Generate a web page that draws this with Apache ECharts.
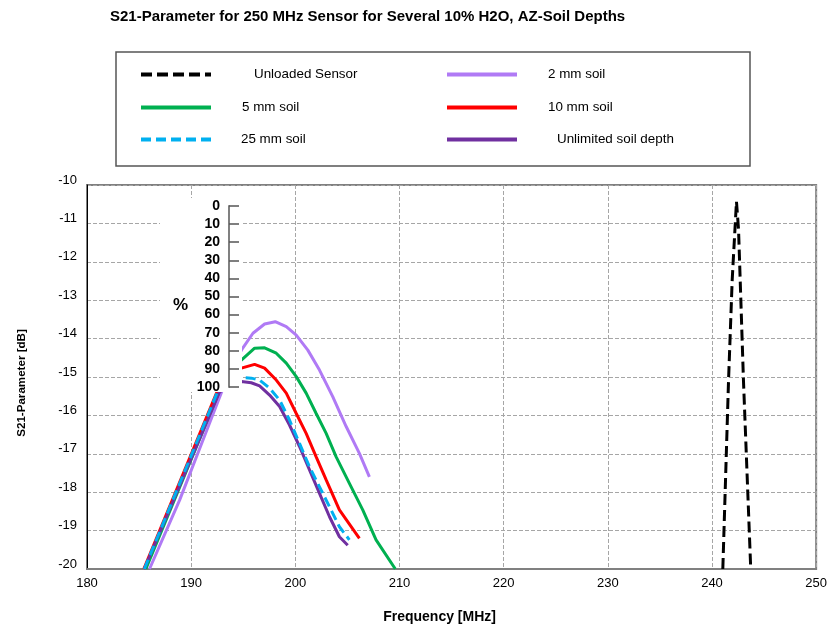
<!DOCTYPE html>
<html>
<head>
<meta charset="utf-8">
<title>S21-Parameter</title>
<script src="https://cdn.jsdelivr.net/npm/echarts@6.0.0/dist/echarts.min.js"></script>
<style>
    html, body { margin: 0; padding: 0; background: #fff; }
    #chart { width: 830px; height: 631px; }
</style>
</head>
<body>
<div id="chart"></div>
<script>
// frequency axis ticks and S21 axis ticks
var freqTicks = [180, 190, 200, 210, 220, 230, 240, 250];
var dbTicks = [-20, -19, -18, -17, -16, -15, -14, -13, -12, -11, -10];
var pctTicks = [0, 10, 20, 30, 40, 50, 60, 70, 80, 90, 100];

var seriesNames = ['Unloaded Sensor', '2 mm soil', '5 mm soil', '10 mm soil', '25 mm soil', 'Unlimited soil depth'];

// frequency [MHz] / S21 [dB]
var unloadedFreq = [241.04, 241.59, 241.94, 242.35, 242.55, 243.02, 243.72];
var unloadedDb = [-20, -15.08, -12.47, -10.43, -11.17, -15.08, -20];

var soil2Freq = [186.0, 188.9, 193.0, 194.0, 194.82, 195.93, 197.05, 198.07, 199.13, 200.09, 201.2, 202.32, 203.59, 204.88, 206.15, 207.11];
var soil2Db = [-20, -18.2, -15.34, -14.8, -14.3, -13.86, -13.62, -13.56, -13.69, -13.91, -14.3, -14.82, -15.51, -16.29, -16.99, -17.6];

var soil5Freq = [185.65, 192.75, 194.0, 194.82, 196.09, 197.05, 198.17, 199.13, 200.09, 201.04, 202.0, 202.96, 203.92, 205.19, 206.47, 207.75, 209.6];
var soil5Db = [-20, -15.34, -14.8, -14.56, -14.25, -14.24, -14.38, -14.64, -14.99, -15.42, -15.95, -16.47, -17.08, -17.77, -18.46, -19.24, -20];

var soil10Freq = [185.45, 192.55, 194.0, 194.82, 196.09, 197.05, 198.17, 199.13, 200.09, 201.04, 202.0, 202.96, 204.23, 206.15];
var soil10Db = [-20, -15.34, -14.9, -14.77, -14.67, -14.77, -15.08, -15.42, -15.95, -16.47, -17.08, -17.68, -18.46, -19.2];

var soil25Freq = [185.5, 192.6, 194.0, 194.82, 195.77, 196.57, 197.53, 198.49, 199.44, 200.4, 201.36, 202.32, 203.28, 204.23, 205.19];
var soil25Db = [-20, -15.34, -15.05, -15.01, -15.03, -15.08, -15.29, -15.6, -16.12, -16.73, -17.34, -17.86, -18.38, -18.9, -19.24];

var unlimitedFreq = [185.5, 192.7, 194.0, 194.82, 195.77, 196.57, 197.53, 198.49, 199.44, 200.4, 201.36, 202.32, 203.28, 204.23, 205.03];
var unlimitedDb = [-20, -15.4, -15.15, -15.12, -15.15, -15.23, -15.47, -15.77, -16.25, -16.81, -17.42, -18.03, -18.64, -19.16, -19.38];

(function(global) {
    function S21Chart() {
        var that = this;
        var FONT = '"Liberation Sans", Arial, sans-serif';

        that.init = function() {
            var chart = echarts.init(document.getElementById('chart'), null, { renderer: 'canvas' });
            chart.setOption(optionUtil.build());
        };

        var dataUtil = {
            pairs: function(xs, ys) {
                var out = [];
                for (var i = 0; i < xs.length; i++) {
                    out.push([xs[i], ys[i]]);
                }
                return out;
            }
        };

        var optionUtil = {
            lineSeries: function(name, xs, ys, color, type, z) {
                return {
                    name: name,
                    type: 'line',
                    xAxisIndex: 0,
                    yAxisIndex: 0,
                    symbol: 'none',
                    smooth: false,
                    silent: true,
                    z: z || 2,
                    data: dataUtil.pairs(xs, ys),
                    lineStyle: { color: color, width: 3, type: type || 'solid' },
                    itemStyle: { color: color }
                };
            },
            legendItem: function(name, left, top, padLeft) {
                return {
                    data: [name],
                    left: left,
                    top: top,
                    padding: 0,
                    itemWidth: 70,
                    itemHeight: 14,
                    selectedMode: false,
                    // hide the marker dot, keep only the line
                    itemStyle: { color: 'rgba(0,0,0,0)', borderWidth: 0 },
                    lineStyle: { width: 4 },
                    textStyle: {
                        fontFamily: FONT,
                        fontSize: 13.4,
                        color: '#000',
                        padding: [0, 0, 7, padLeft]
                    }
                };
            },
            build: function() {
                var gridLine = { show: true, lineStyle: { color: '#a6a6a6', width: 1, type: [4, 2] } };
                return {
                    animation: false,
                    backgroundColor: '#fff',
                    title: {
                        text: 'S21-Parameter for 250 MHz Sensor for Several 10% H2O, AZ-Soil Depths',
                        left: 110,
                        top: 9,
                        padding: 0,
                        textStyle: { fontFamily: FONT, fontSize: 15, fontWeight: 'bold', color: '#000' }
                    },
                    legend: [
                        this.legendItem(seriesNames[0], 139, 68, 38),
                        this.legendItem(seriesNames[2], 139, 101, 26),
                        this.legendItem(seriesNames[4], 139, 133, 25),
                        this.legendItem(seriesNames[1], 445, 68, 26),
                        this.legendItem(seriesNames[3], 445, 101, 26),
                        this.legendItem(seriesNames[5], 445, 133, 35)
                    ],
                    grid: [{
                        left: 87, right: 11, top: 185, bottom: 62,
                        show: true, borderColor: '#808080', borderWidth: 2
                    }, {
                        left: 229, top: 206, height: 181, width: 2
                    }],
                    xAxis: [{
                        type: 'value',
                        gridIndex: 0,
                        min: freqTicks[0],
                        max: freqTicks[freqTicks.length - 1],
                        interval: 10,
                        name: 'Frequency [MHz]',
                        nameLocation: 'middle',
                        nameGap: 41,
                        nameTextStyle: { fontFamily: FONT, fontSize: 14, fontWeight: 'bold', color: '#000', padding: [0, 24, 0, 0] },
                        axisLine: { show: true, lineStyle: { color: '#808080', width: 2 } },
                        axisTick: { show: false },
                        axisLabel: { fontFamily: FONT, fontSize: 13, color: '#000', margin: 8 },
                        splitLine: gridLine
                    }, {
                        type: 'value', gridIndex: 1, show: false, min: 0, max: 1
                    }],
                    yAxis: [{
                        type: 'value',
                        gridIndex: 0,
                        min: dbTicks[0],
                        max: dbTicks[dbTicks.length - 1],
                        interval: 1,
                        name: 'S21-Parameter [dB]',
                        nameLocation: 'middle',
                        nameGap: 59,
                        nameTextStyle: { fontFamily: FONT, fontSize: 11.6, fontWeight: 'bold', color: '#000', padding: [0, 12, 0, 0] },
                        axisLine: { show: true, lineStyle: { color: '#000', width: 1 } },
                        axisTick: { show: false },
                        axisLabel: { fontFamily: FONT, fontSize: 13, color: '#000', margin: 10, verticalAlign: 'bottom', lineHeight: 10 },
                        splitLine: gridLine
                    }, {
                        type: 'value',
                        gridIndex: 1,
                        inverse: true,
                        min: pctTicks[0],
                        max: pctTicks[pctTicks.length - 1],
                        interval: 10,
                        z: 10,
                        name: '%',
                        nameLocation: 'middle',
                        nameGap: 41,
                        nameRotate: 0,
                        nameTextStyle: { fontFamily: FONT, fontSize: 17, fontWeight: 'bold', color: '#000', verticalAlign: 'top' },
                        axisLine: { show: true, lineStyle: { color: '#808080', width: 2 } },
                        axisTick: { show: true, inside: true, length: 10, lineStyle: { color: '#555', width: 1.5 } },
                        axisLabel: { fontFamily: FONT, fontSize: 14, fontWeight: 'bold', color: '#000', margin: 9 },
                        splitLine: { show: false }
                    }],
                    graphic: [{
                        type: 'rect',
                        z: 5,
                        shape: { x: 160, y: 198, width: 82, height: 194 },
                        style: { fill: '#fff' },
                        silent: true
                    }, {
                        type: 'rect',
                        z: 5,
                        shape: { x: 116, y: 52, width: 634, height: 114 },
                        style: { fill: 'none', stroke: '#555', lineWidth: 1.5 },
                        silent: true
                    }],
                    series: [
                        this.lineSeries(seriesNames[0], unloadedFreq, unloadedDb, '#000', [11, 5], 4),
                        this.lineSeries(seriesNames[1], soil2Freq, soil2Db, '#b07af5'),
                        this.lineSeries(seriesNames[2], soil5Freq, soil5Db, '#00b050'),
                        this.lineSeries(seriesNames[3], soil10Freq, soil10Db, '#ff0000'),
                        this.lineSeries(seriesNames[4], soil25Freq, soil25Db, '#00b0f0', [10, 5], 3),
                        this.lineSeries(seriesNames[5], unlimitedFreq, unlimitedDb, '#7030a0')
                    ]
                };
            }
        };
    }
    global.S21Chart = new S21Chart();
})(this);

S21Chart.init();
</script>
</body>
</html>
